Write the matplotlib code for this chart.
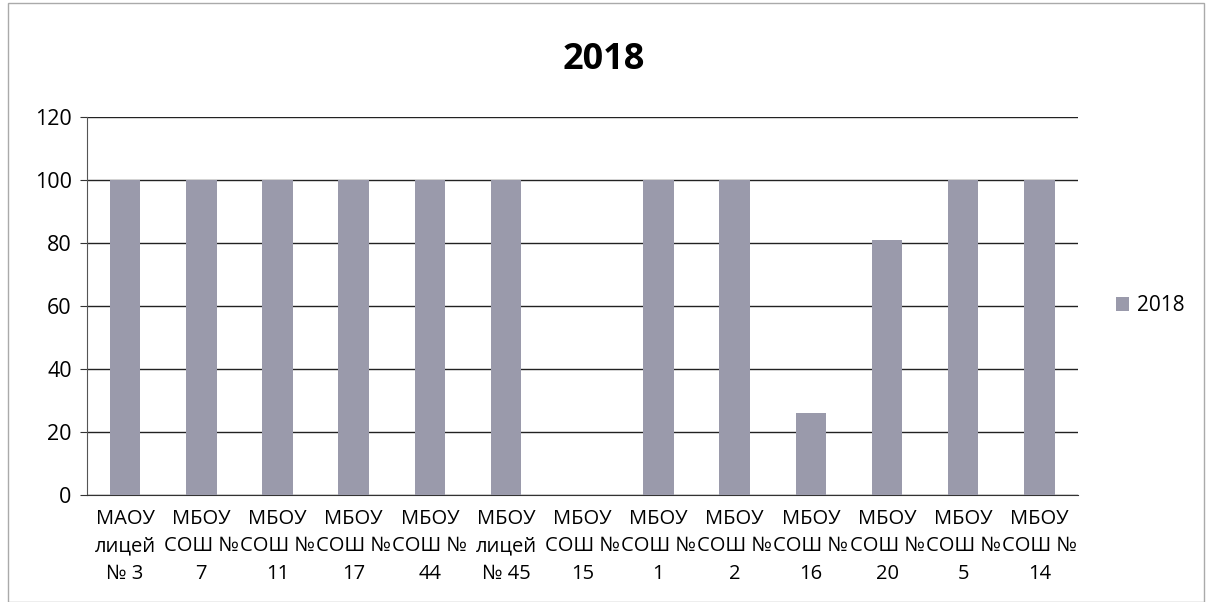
import matplotlib.pyplot as plt
from matplotlib.patches import Rectangle

# data
schools = ["МАОУ\nлицей\n№ 3", "МБОУ\nСОШ №\n7", "МБОУ\nСОШ №\n11", "МБОУ\nСОШ №\n17",
           "МБОУ\nСОШ №\n44", "МБОУ\nлицей\n№ 45", "МБОУ\nСОШ №\n15", "МБОУ\nСОШ №\n1",
           "МБОУ\nСОШ №\n2", "МБОУ\nСОШ №\n16", "МБОУ\nСОШ №\n20", "МБОУ\nСОШ №\n5",
           "МБОУ\nСОШ №\n14"]
values_2018 = [100, 100, 100, 100, 100, 100, 0, 100, 100, 26, 81, 100, 100]
yticks = [0, 20, 40, 60, 80, 100, 120]

plt.rcParams['font.family'] = ['Open Sans', 'DejaVu Sans']

fig = plt.figure(figsize=(12.08, 6.02), dpi=100)
ax = fig.add_axes([0.072, 0.178, 0.82, 0.628])

x = list(range(len(schools)))
ax.bar(x, values_2018, width=0.4, color="#9a9aab", label="2018", zorder=3)

ax.set_ylim(0, 120)
ax.set_xlim(-0.5, len(schools) - 0.5)
ax.set_yticks(yticks)
ax.set_xticks(x)
ax.set_xticklabels(schools, fontsize=14.5, linespacing=1.5)
ax.tick_params(axis='y', labelsize=15.5, length=5, color="#333333", pad=6)
ax.tick_params(axis='x', length=0, pad=10)
ax.grid(axis='y', color="#222222", linewidth=1.0, zorder=0)
for side in ["top", "right"]:
    ax.spines[side].set_visible(False)
ax.spines["left"].set_color("#555555")
ax.spines["bottom"].set_color("#333333")

fig.text(0.5, 0.9, "2018", ha="center", va="center", fontsize=26, fontweight="bold")
ax.legend(loc="center left", bbox_to_anchor=(1.02, 0.5), frameon=False, fontsize=15,
          handlelength=0.6, handleheight=0.6, handletextpad=0.4)

fig.patches.append(Rectangle((0.007, 0.0), 0.99, 0.995, transform=fig.transFigure,
                             fill=False, edgecolor="#aaaaaa", linewidth=1))

fig.savefig("out.png", dpi=100)
